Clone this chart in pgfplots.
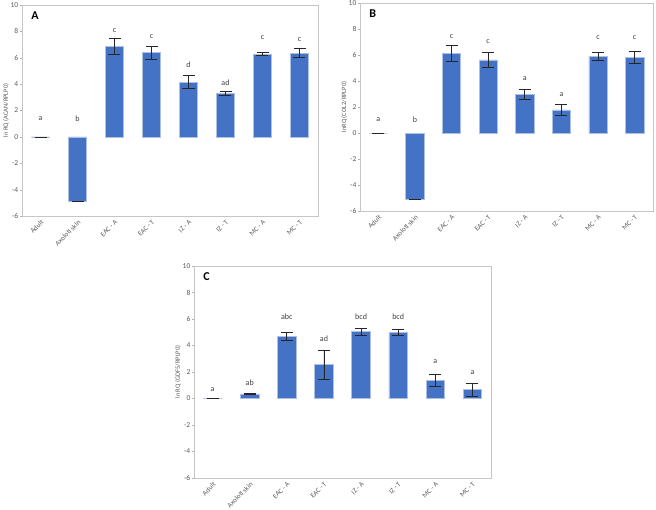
\documentclass[border=0pt]{standalone}
\usepackage{fontspec}
\setmainfont{Carlito}
\usepackage{pgfplots}
\pgfplotsset{compat=1.18}
\definecolor{barblue}{HTML}{4472C4}
\definecolor{txtgray}{HTML}{595959}
\definecolor{lblgray}{HTML}{404040}

\pgfplotsset{
  panel/.style={
    scale only axis, anchor=north west,
    ymin=-6, ymax=10, ytick={-6,-4,...,10},
    xmin=-0.5, xmax=7.5, xtick={0,...,7},
    xticklabels={Adult, Axolotl skin, EAC - A, EAC - T, IZ - A, IZ - T, MC - A, MC - T},
    x tick label style={rotate=45, anchor=north east, font=\fontsize{7}{8}\selectfont, text=txtgray, inner sep=1pt},
    y tick label style={font=\fontsize{7.5}{8}\selectfont, text=txtgray, inner sep=1.5pt},
    ylabel style={font=\fontsize{6.5}{7}\selectfont, text=txtgray,
      at={(axis description cs:-0.054,0.5)}, anchor=center},
    axis line style={gray!45},
    major tick length=2pt, tick align=outside, tick pos=left,
    xtick style={draw=none}, ytick style={gray!60},
    /pgf/number format/assume math mode=true,
    clip=false,
  },
  bars/.style={
    ybar, bar width=0.5, bar shift=0pt,
    fill=barblue, draw=barblue!45!white, line width=0.6pt,
    error bars/.cd, y dir=both, y explicit,
    error bar style={black!85, line width=0.7pt},
    error mark options={rotate=90, mark size=6pt, line width=0.7pt, black!85},
  },
  letters/.style={
    draw=none, mark=none, nodes near coords, point meta=explicit symbolic,
    nodes near coords style={anchor=center, font=\fontsize{8}{9}\selectfont, text=lblgray},
  },
}

\begin{document}
\begin{tikzpicture}
\path[use as bounding box] (0,0) rectangle (656pt,-509pt);

% Panel A
\begin{axis}[panel, at={(22pt,-5pt)}, width=296pt, height=211pt,
  ylabel={ln RQ (ACAN/RPLP0)}]
\addplot[bars] table[x=x, y=y, y error=e] {
x y e
0 0 0
1 -4.86 0
2 6.86 0.58
3 6.38 0.48
4 4.16 0.48
5 3.29 0.15
6 6.28 0.12
7 6.36 0.32
};
\addplot[letters] table[x=x, y=y, meta=l] {
x y l
0 1.37 a
1 1.37 b
2 8.07 c
3 7.60 c
4 5.47 d
5 4.10 ad
6 7.50 c
7 7.40 c
};
\node[anchor=north west, font=\bfseries\fontsize{12}{13}\selectfont] at (rel axis cs:0.02,0.985) {A};
\end{axis}

% Panel B
\begin{axis}[panel, at={(360pt,-3pt)}, width=293pt, height=208pt,
  ylabel={lnRQ (COL2/RPLP0)}]
\addplot[bars] table[x=x, y=y, y error=e] {
x y e
0 0 0
1 -5.07 0
2 6.13 0.60
3 5.62 0.55
4 2.96 0.40
5 1.77 0.45
6 5.90 0.28
7 5.82 0.43
};
\addplot[letters] table[x=x, y=y, meta=l] {
x y l
0 1.00 a
1 1.00 b
2 7.42 c
3 7.04 c
4 4.20 a
5 2.94 a
6 7.34 c
7 7.34 c
};
\node[anchor=north west, font=\bfseries\fontsize{12}{13}\selectfont] at (rel axis cs:0.02,0.985) {B};
\end{axis}

% Panel C
\begin{axis}[panel, at={(194pt,-266pt)}, width=297pt, height=212pt,
  ylabel={ln RQ (GDF5/RPLP0)}]
\addplot[bars] table[x=x, y=y, y error=e] {
x y e
0 0 0
1 0.35 0.02
2 4.71 0.30
3 2.56 1.09
4 5.04 0.28
5 4.99 0.23
6 1.37 0.48
7 0.66 0.50
};
\addplot[letters] table[x=x, y=y, meta=l] {
x y l
0 0.66 a
1 1.19 ab
2 6.15 abc
3 4.48 ad
4 6.15 bcd
5 6.15 bcd
6 2.78 a
7 1.97 a
};
\node[anchor=north west, font=\bfseries\fontsize{12}{13}\selectfont] at (rel axis cs:0.02,0.985) {C};
\end{axis}
\end{tikzpicture}
\end{document}
